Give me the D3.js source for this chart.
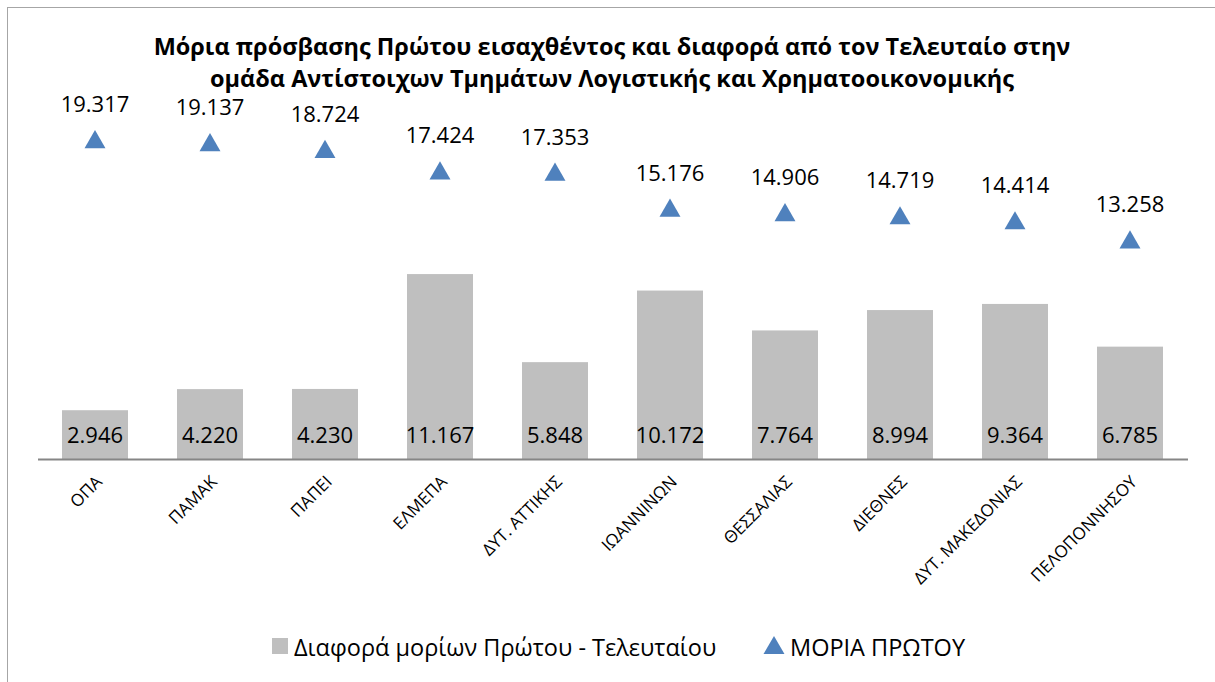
<!DOCTYPE html>
<html>
<head>
<meta charset="utf-8">
<script src="https://cdnjs.cloudflare.com/ajax/libs/d3/7.8.5/d3.min.js"></script>
<style>
body{margin:0;background:#fff;}
svg text{font-family:"Open Sans","Noto Sans",sans-serif;fill:#000;}
</style>
</head>
<body>
<div id="chart"></div>
<script>
// data
var categories = ["ΟΠΑ","ΠΑΜΑΚ","ΠΑΠΕΙ","ΕΛΜΕΠΑ","ΔΥΤ. ΑΤΤΙΚΗΣ","ΙΩΑΝΝΙΝΩΝ","ΘΕΣΣΑΛΙΑΣ","ΔΙΕΘΝΕΣ","ΔΥΤ. ΜΑΚΕΔΟΝΙΑΣ","ΠΕΛΟΠΟΝΝΗΣΟΥ"];
var diffValues = [2.946,4.220,4.230,11.167,5.848,10.172,7.764,8.994,9.364,6.785];
var firstValues = [19.317,19.137,18.724,17.424,17.353,15.176,14.906,14.719,14.414,13.258];
var diffName = "Διαφορά μορίων Πρώτου - Τελευταίου";
var firstName = "ΜΟΡΙΑ ΠΡΩΤΟΥ";
var titleLines = ["Μόρια πρόσβασης Πρώτου εισαχθέντος και διαφορά από τον Τελευταίο στην",
                  "ομάδα Αντίστοιχων Τμημάτων Λογιστικής και Χρηματοοικονομικής"];

var W = 1215, H = 682;
var barColor = "#bfbfbf", triColor = "#4f81bd";

var svg = d3.select("#chart").append("svg").attr("width", W).attr("height", H);

// outer frame
svg.append("rect")
    .attr("x", 7.5).attr("y", 7.5)
    .attr("width", W).attr("height", H + 20)
    .attr("fill", "none").attr("stroke", "#a6a6a6").attr("stroke-width", 1);

var x = d3.scaleBand().domain(categories).range([37.5, 1187.5]).paddingInner(0.426).paddingOuter(0.213);
var y = d3.scaleLinear().domain([0, 25]).range([459, 45]);

// title
svg.selectAll(".title").data(titleLines).enter().append("text")
    .attr("class", "title")
    .attr("x", 612).attr("y", function(d, i) { return 55 + i * 32; })
    .attr("text-anchor", "middle")
    .style("font-weight", "bold").style("font-size", "23.5px")
    .text(function(d) { return d; });

// bars
svg.selectAll(".bar").data(diffValues).enter().append("rect")
    .attr("class", "bar")
    .attr("x", function(d, i) { return x(categories[i]); })
    .attr("y", function(d) { return y(d); })
    .attr("width", x.bandwidth())
    .attr("height", function(d) { return y(0) - y(d); })
    .attr("fill", barColor);

// bar labels
svg.selectAll(".blab").data(diffValues).enter().append("text")
    .attr("class", "blab")
    .attr("x", function(d, i) { return x(categories[i]) + x.bandwidth() / 2; })
    .attr("y", 443)
    .attr("text-anchor", "middle")
    .style("font-size", "22px")
    .text(function(d) { return d.toFixed(3); });

// x axis
var xAxis = svg.append("g")
    .attr("transform", "translate(0," + y(0) + ")")
    .attr("font-size", 17)
    .attr("font-family", "'Open Sans','Noto Sans',sans-serif")
    .call(d3.axisBottom(x).tickSize(0).tickSizeOuter(0));
xAxis.select(".domain").attr("stroke", "#868686").attr("stroke-width", 2);
xAxis.selectAll(".tick text")
    .attr("text-anchor", "end")
    .attr("dy", 0).attr("y", 0)
    .attr("transform", "translate(8,24) rotate(-45)")
    .style("font-size", "17px");

// triangles
var tri = d3.symbol().type(d3.symbolTriangle).size(190);
svg.selectAll(".tri").data(firstValues).enter().append("path")
    .attr("class", "tri")
    .attr("d", tri)
    .attr("transform", function(d, i) { return "translate(" + (x(categories[i]) + x.bandwidth() / 2) + "," + (y(d) + 3) + ")"; })
    .attr("fill", triColor);

svg.selectAll(".tlab").data(firstValues).enter().append("text")
    .attr("class", "tlab")
    .attr("x", function(d, i) { return x(categories[i]) + x.bandwidth() / 2; })
    .attr("y", function(d) { return y(d) - 27; })
    .attr("text-anchor", "middle")
    .style("font-size", "22px")
    .text(function(d) { return d.toFixed(3); });

// legend
var lg = svg.append("g");
lg.append("rect").attr("x", 272).attr("y", 638).attr("width", 16).attr("height", 16).attr("fill", barColor);
lg.append("text").attr("x", 294).attr("y", 656).style("font-size", "23.5px").text(diffName);
lg.append("path").attr("d", tri).attr("transform", "translate(774,648)").attr("fill", triColor);
lg.append("text").attr("x", 790).attr("y", 656).style("font-size", "23.5px").text(firstName);
</script>
</body>
</html>
